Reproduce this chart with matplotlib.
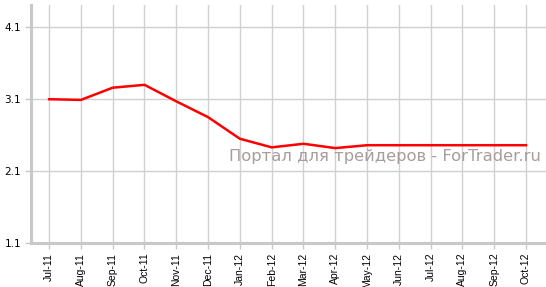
import numpy as np
import matplotlib.pyplot as plt

months = ['Jul-11', 'Aug-11', 'Sep-11', 'Oct-11', 'Nov-11', 'Dec-11',
          'Jan-12', 'Feb-12', 'Mar-12', 'Apr-12', 'May-12', 'Jun-12',
          'Jul-12', 'Aug-12', 'Sep-12', 'Oct-12']
values = [3.10, 3.09, 3.26, 3.30, 3.07, 2.85, 2.55, 2.43, 2.48, 2.42,
          2.46, 2.46, 2.46, 2.46, 2.46, 2.46]
yticks = [1.1, 2.1, 3.1, 4.1]
watermark = 'Портал для трейдеров - ForTrader.ru'

fig = plt.figure(figsize=(5.46, 2.87), dpi=100)
ax = fig.add_axes([31 / 546, 44 / 287, 1 - 31 / 546, 238 / 287])

x = np.arange(len(months))
ax.plot(x, values, color='#ff0000', linewidth=1.8, zorder=3)

ax.set_xlim(-0.57, 15.63)
ax.set_ylim(1.1, 4.41)
ax.set_xticks(x)
ax.set_xticklabels(months, rotation=90, fontsize=7.5, family='Liberation Sans')
ax.set_yticks(yticks)
ax.set_yticklabels([f'{v:.1f}' for v in yticks], fontsize=7.5)

ax.grid(True, color='#d0d0d0', linewidth=1)
ax.set_axisbelow(True)

for side in ['top', 'right']:
    ax.spines[side].set_visible(False)
for side in ['left', 'bottom']:
    ax.spines[side].set_color('#c8c8c8')
    ax.spines[side].set_linewidth(2.2)
ax.tick_params(axis='both', colors='#c8c8c8', length=4, width=1, labelcolor='black')
ax.tick_params(axis='x', pad=3)
ax.tick_params(axis='y', pad=3)

# водяной знак
ax.text(0.99, 0.343, watermark, transform=ax.transAxes, ha='right', va='baseline',
        fontsize=11.8, color='#a89c9c')

fig.savefig('out.png', dpi=100)
